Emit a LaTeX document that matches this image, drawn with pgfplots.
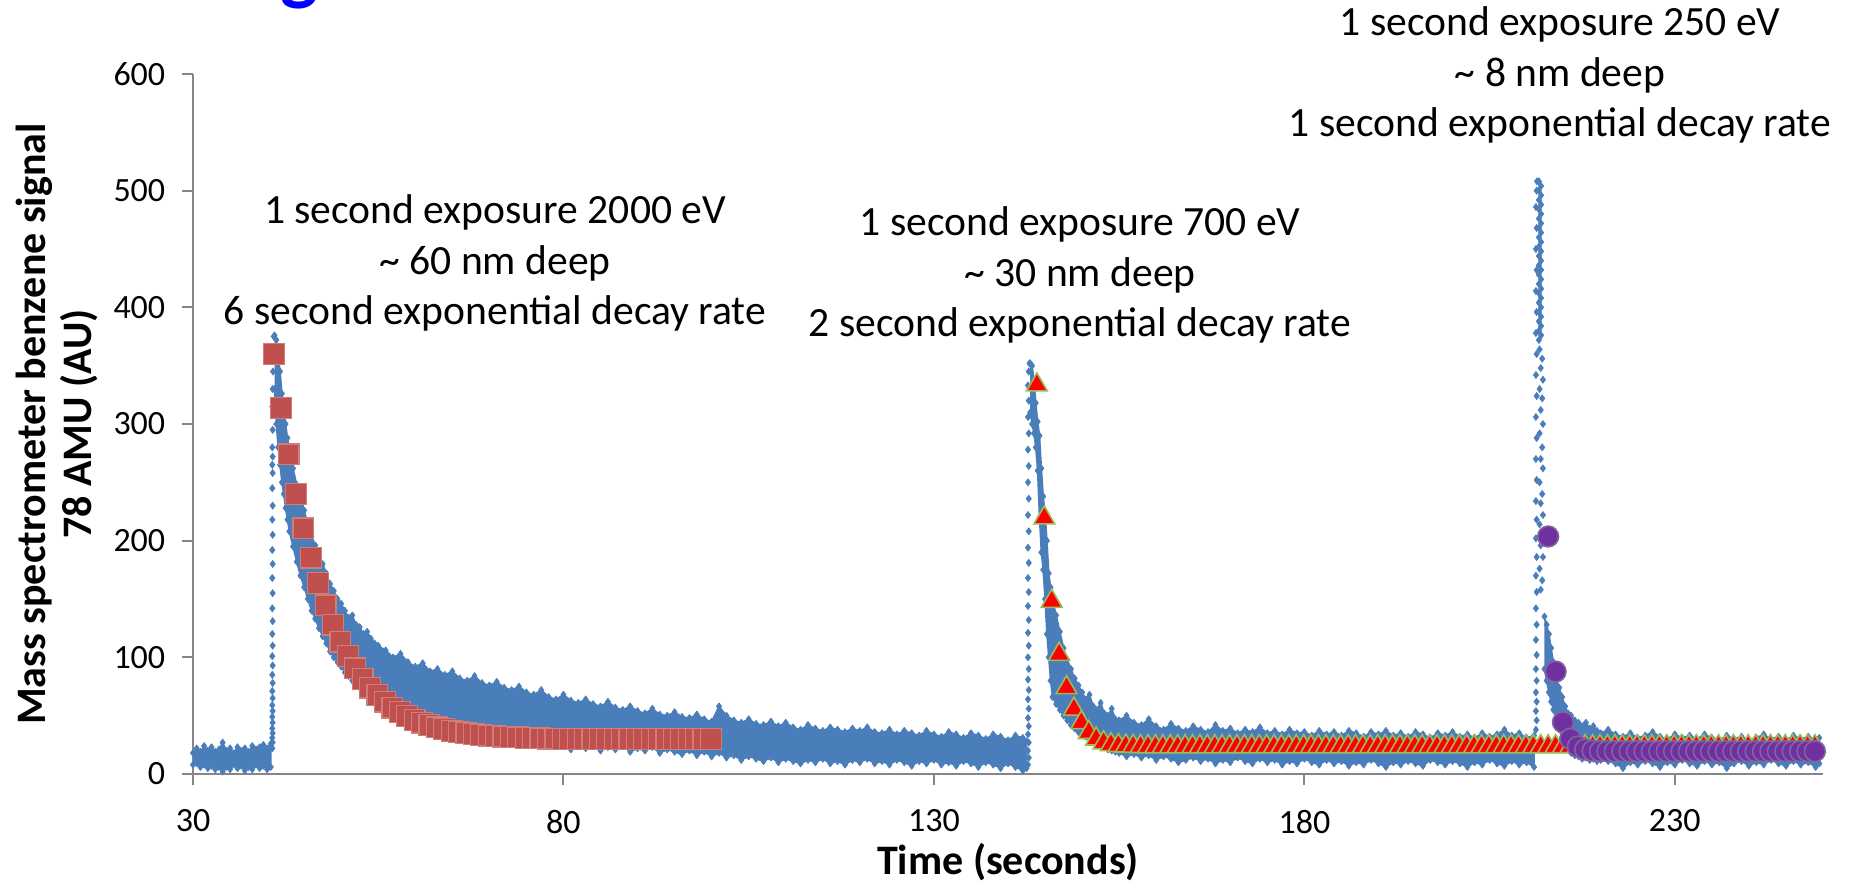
\documentclass[border=0pt]{standalone}
\usepackage{fontspec}
\setmainfont{Carlito}
\usepackage{pgfplots}
\pgfplotsset{compat=1.18}
\usepackage{pgfplotstable}
\definecolor{sblue}{HTML}{4A7EBB}
\definecolor{sred}{HTML}{C0504D}
\definecolor{tgreen}{HTML}{9BBB59}
\definecolor{cpurple}{HTML}{7030A0}
\definecolor{cpurpleb}{HTML}{8064A2}
\definecolor{axgray}{HTML}{868686}
\newcommand{\tickfont}{\fontsize{8.5}{10}\selectfont}
\newcommand{\annfont}{\fontsize{10.4}{12.6}\selectfont}
\newcommand{\labfont}{\fontsize{10.5}{11.5}\selectfont\bfseries}

% ---- blue signal: noisy band, section 1 (baseline before first exposure)
\pgfplotstableread{
x y
30.0 18
30.5 22
31.0 19
31.5 24
32.0 20
32.5 23
33.0 19
33.5 21
34.0 27
34.5 20
35.0 22
35.5 18
36.0 23
36.5 20
37.0 22
37.5 19
38.0 24
38.5 21
39.0 23
39.5 25
40.0 22
40.5 26
40.5 6
40.0 4
39.5 7
39.0 5
38.5 8
38.0 4
37.5 6
37.0 3
36.5 7
36.0 5
35.5 8
35.0 4
34.5 6
34.0 2
33.5 6
33.0 4
32.5 7
32.0 5
31.5 8
31.0 6
30.5 9
30.0 8
}\bandA

% ---- blue signal, section 2 (decay after 2000 eV exposure)
\pgfplotstableread{
x y
41.0 376
41.25 372
41.5 360
41.75 345
42.0 326
42.25 312
42.5 300
42.75 288
43.0 278
43.5 262
44.0 248
44.5 238
45.0 226
45.5 214
46.0 204
46.5 196
47.0 186
47.5 180
48.0 172
48.5 163
49.0 157
49.5 150
50.0 146
50.5 140
51.0 134
51.5 136
52.0 128
52.5 126
53.0 120
53.5 122
54.0 116
54.5 112
55.0 110
56.0 106
57.0 100
58.0 103
59.0 96
60.0 92
61.0 95
62.0 88
63.0 90
64.0 85
65.0 88
66.0 82
67.0 80
68.0 84
69.0 78
70.0 76
71.0 79
72.0 74
73.0 72
74.0 75
75.0 70
76.0 68
77.0 72
78.0 66
79.0 64
80.0 68
81.0 63
82.0 61
83.0 64
84.0 60
85.0 58
86.0 62
87.0 57
88.0 55
89.0 58
90.0 54
91.0 52
92.0 56
93.0 51
94.0 50
95.0 53
96.0 49
97.0 48
98.0 51
99.0 47
100.0 45
101.0 58
102.0 50
103.0 46
104.0 44
105.0 47
106.0 43
107.0 42
108.0 45
109.0 41
110.0 44
111.0 40
112.0 38
113.0 42
114.0 39
115.0 37
116.0 40
117.0 38
118.0 36
119.0 39
120.0 37
121.0 40
122.0 36
123.0 35
124.0 38
125.0 34
126.0 37
127.0 35
128.0 33
129.0 37
130.0 34
131.0 32
132.0 36
133.0 34
134.0 31
135.0 35
136.0 33
137.0 30
138.0 34
139.0 32
140.0 29
141.0 33
142.0 31
142.5 28
142.5 5
142.0 3
141.0 6
140.0 9
139.0 5
138.0 8
137.0 10
136.0 6
135.0 9
134.0 11
133.0 7
132.0 10
131.0 8
130.0 12
129.0 9
128.0 11
127.0 7
126.0 10
125.0 12
124.0 8
123.0 11
122.0 9
121.0 13
120.0 10
119.0 12
118.0 8
117.0 11
116.0 9
115.0 13
114.0 10
113.0 12
112.0 9
111.0 11
110.0 13
109.0 10
108.0 14
107.0 11
106.0 13
105.0 15
104.0 12
103.0 16
102.0 14
101.0 18
100.0 15
99.0 19
98.0 16
97.0 20
96.0 17
95.0 19
94.0 21
93.0 18
92.0 23
91.0 20
90.0 22
89.0 19
88.0 24
87.0 21
86.0 23
85.0 20
84.0 24
83.0 22
82.0 25
81.0 21
80.0 27
79.0 25
78.0 28
77.0 27
76.0 30
75.0 28
74.0 31
73.0 30
72.0 33
71.0 31
70.0 34
69.0 37
68.0 36
67.0 39
66.0 40
65.0 43
64.0 42
63.0 45
62.0 46
61.0 50
60.0 49
59.0 53
58.0 54
57.0 59
56.0 58
55.0 62
54.5 64
54.0 67
53.5 69
53.0 72
52.5 74
52.0 77
51.5 80
51.0 84
50.5 87
50.0 92
49.5 96
49.0 100
48.5 105
48.0 112
47.5 118
47.0 125
46.5 133
46.0 140
45.5 150
45.0 160
44.5 170
44.0 182
43.5 195
43.0 208
42.75 218
42.5 228
42.25 240
42.0 250
41.75 265
41.5 280
41.25 300
41.0 330
}\bandB

% ---- blue signal, section 3 (decay after 700 eV exposure)
\pgfplotstableread{
x y
143.0 352
143.25 350
143.5 338
143.75 318
144.0 302
144.25 290
144.5 262
144.75 238
145.0 224
145.25 200
145.5 172
145.75 160
146.0 150
146.5 136
147.0 122
147.5 108
148.0 98
148.5 90
149.0 82
149.5 76
150.0 70
150.5 64
151.0 68
151.5 58
152.0 55
152.5 61
153.0 52
153.5 50
154.0 56
154.5 47
155.0 46
156.0 50
157.0 44
158.0 42
159.0 47
160.0 41
161.0 38
162.0 43
163.0 39
164.0 37
165.0 41
166.0 38
167.0 36
168.0 42
169.0 37
170.0 39
171.0 35
172.0 38
173.0 36
174.0 40
175.0 35
176.0 37
177.0 34
178.0 38
179.0 35
180.0 36
181.0 33
182.0 37
183.0 34
184.0 36
185.0 33
186.0 37
187.0 35
188.0 32
189.0 36
190.0 34
191.0 37
192.0 33
193.0 35
194.0 32
195.0 36
196.0 34
197.0 31
198.0 35
199.0 33
200.0 36
201.0 32
202.0 34
203.0 31
204.0 35
205.0 32
206.0 34
207.0 38
208.0 33
209.0 35
210.0 31
211.0 33
211.0 6
210.0 10
209.0 8
208.0 11
207.0 7
206.0 9
205.0 12
204.0 8
203.0 10
202.0 6
201.0 9
200.0 11
199.0 8
198.0 10
197.0 12
196.0 7
195.0 9
194.0 11
193.0 8
192.0 10
191.0 6
190.0 9
189.0 12
188.0 8
187.0 10
186.0 7
185.0 11
184.0 9
183.0 12
182.0 8
181.0 10
180.0 13
179.0 9
178.0 11
177.0 8
176.0 12
175.0 10
174.0 13
173.0 9
172.0 11
171.0 14
170.0 10
169.0 12
168.0 9
167.0 13
166.0 11
165.0 14
164.0 12
163.0 10
162.0 13
161.0 15
160.0 12
159.0 16
158.0 14
157.0 17
156.0 15
155.0 18
154.5 19
154.0 20
153.5 21
153.0 23
152.5 24
152.0 26
151.5 28
151.0 30
150.5 32
150.0 34
149.5 36
149.0 39
148.5 42
148.0 46
147.5 50
147.0 55
146.5 60
146.0 66
145.75 80
145.5 100
145.25 120
145.0 150
144.75 175
144.5 190
144.25 220
144.0 260
143.75 280
143.5 292
143.25 300
143.0 310
}\bandC

% ---- blue signal, section 4 (decay after 250 eV exposure)
\pgfplotstableread{
x y
212.4 135
212.7 128
213.0 120
213.3 108
213.6 96
214.0 82
214.4 74
214.8 66
215.2 58
215.6 52
216.0 50
216.5 46
217.0 44
217.5 41
218.0 44
218.5 39
219.0 41
219.5 37
220.0 35
221.0 38
222.0 34
223.0 32
224.0 35
225.0 31
226.0 33
227.0 36
228.0 32
229.0 30
230.0 34
231.0 31
232.0 33
233.0 30
234.0 34
235.0 31
236.0 29
237.0 33
238.0 30
239.0 32
240.0 29
241.0 31
242.0 34
243.0 30
244.0 32
245.0 29
246.0 33
247.0 30
248.0 32
249.0 29
249.5 31
249.5 9
249.0 6
248.0 10
247.0 8
246.0 11
245.0 7
244.0 9
243.0 12
242.0 8
241.0 10
240.0 7
239.0 11
238.0 9
237.0 5
236.0 10
235.0 8
234.0 11
233.0 7
232.0 9
231.0 12
230.0 8
229.0 10
228.0 6
227.0 9
226.0 11
225.0 8
224.0 10
223.0 5
222.0 9
221.0 11
220.0 12
219.5 11
219.0 13
218.5 12
218.0 14
217.5 13
217.0 15
216.5 16
216.0 18
215.6 22
215.2 26
214.8 32
214.4 38
214.0 46
213.6 55
213.3 62
213.0 70
212.7 80
212.4 90
}\bandD

% ---- blue signal: isolated points on the rising edges and peak tops
\pgfplotstableread{
x y
40.70 22
40.75 27
40.70 31
40.75 35
40.70 39
40.75 44
40.70 49
40.75 54
40.70 59
40.75 65
40.70 71
40.75 78
40.70 85
40.75 93
40.70 101
40.75 110
40.70 120
40.75 131
40.70 142
40.75 155
40.70 168
40.75 180
40.70 192
40.75 205
40.70 218
40.75 230
40.70 245
40.75 258
40.70 265
40.75 272
40.70 280
40.75 295
40.70 315
40.75 330
40.80 345
40.85 360
40.90 375
142.70 8
142.80 14
142.70 20
142.80 27
142.70 34
142.80 41
142.70 48
142.80 56
142.70 64
142.80 72
142.70 81
142.80 90
142.70 100
142.80 110
142.70 121
142.80 132
142.70 144
142.80 156
142.70 168
142.80 181
142.70 194
142.80 208
142.70 222
142.80 236
142.70 250
142.80 264
142.70 278
142.80 292
142.70 306
142.80 320
142.70 333
142.80 345
142.90 352
211.25 38
211.35 46
211.25 54
211.35 62
211.25 70
211.35 80
211.25 90
211.35 102
211.25 115
211.35 128
211.25 142
211.35 156
211.25 170
211.35 186
211.25 202
211.35 218
211.25 234
211.35 252
211.25 270
211.35 288
211.25 306
211.35 324
211.25 342
211.35 360
211.25 378
211.35 396
211.25 414
211.35 432
211.25 450
211.35 468
211.25 486
211.35 500
211.40 508
211.65 372
211.65 380
211.65 388
211.65 396
211.65 404
211.65 412
211.65 420
211.65 428
211.65 436
211.65 444
211.65 452
211.65 460
211.65 468
211.65 476
211.65 484
211.65 492
211.65 500
211.65 508
211.95 376
211.95 384
211.95 392
211.95 400
211.95 408
211.95 416
211.95 424
211.95 432
211.95 440
211.95 448
211.95 456
211.95 464
211.95 472
211.95 480
211.95 488
211.95 496
211.95 504
211.75 364
212.10 356
211.90 348
212.20 338
211.75 330
212.10 322
211.90 312
212.20 300
211.75 292
212.10 280
211.90 270
212.20 262
211.75 250
212.10 240
211.90 232
212.20 222
211.75 214
212.10 205
211.90 196
212.20 186
211.75 176
212.10 166
211.90 158
}\bluepts

% ---- fit, 2000 eV (6 s exponential decay)
\pgfplotstableread{
x y
40.9 360
41.9 313.5
42.9 274
43.9 240
44.9 210.5
45.9 185.5
46.9 163.5
47.9 144.5
48.9 128
49.9 113.5
50.9 101
51.9 90.5
52.9 81.5
53.9 74
54.9 67.5
55.9 62
56.9 57
57.9 53
58.9 49.5
59.9 46.5
60.9 44
61.9 42
62.9 40
63.9 38.5
64.9 37
65.9 36
66.9 35
67.9 34.2
68.9 33.5
69.9 32.9
70.9 32.4
71.9 32
72.9 31.6
73.9 31.3
74.9 31
75.9 30.8
76.9 30.6
77.9 30.4
78.9 30.3
79.9 30.2
80.9 30.1
81.9 30
82.9 30
83.9 30
84.9 30
85.9 30
86.9 30
87.9 30
88.9 30
89.9 30
90.9 30
91.9 30
92.9 30
93.9 30
94.9 30
95.9 30
96.9 30
97.9 30
98.9 30
99.9 30
}\fitA

% ---- fit, 700 eV (2 s exponential decay)
\pgfplotstableread{
x y
143.9 333.5
144.9 219.5
145.9 148
146.9 102.6
147.9 74
148.9 55.6
149.9 44
150.9 35.6
151.9 30
152.9 26.8
153.9 25.2
154.9 24.4
155.9 24
156.9 23.8
157.9 23.6
158.9 23.5
159.9 23.5
160.9 23.5
161.9 23.5
162.9 23.5
163.9 23.5
164.9 23.5
165.9 23.5
166.9 23.5
167.9 23.5
168.9 23.5
169.9 23.5
170.9 23.5
171.9 23.5
172.9 23.5
173.9 23.5
174.9 23.5
175.9 23.5
176.9 23.5
177.9 23.5
178.9 23.5
179.9 23.5
180.9 23.5
181.9 23.5
182.9 23.5
183.9 23.5
184.9 23.5
185.9 23.5
186.9 23.5
187.9 23.5
188.9 23.5
189.9 23.5
190.9 23.5
191.9 23.5
192.9 23.5
193.9 23.5
194.9 23.5
195.9 23.5
196.9 23.5
197.9 23.5
198.9 23.5
199.9 23.5
200.9 23.5
201.9 23.5
202.9 23.5
203.9 23.5
204.9 23.5
205.9 23.5
206.9 23.5
207.9 23.5
208.9 23.5
209.9 23.5
210.9 23.5
211.9 23.5
212.9 23.5
213.9 23.5
214.9 23.5
215.9 23.5
216.9 23.5
217.9 23.5
218.9 23.5
219.9 23.5
220.9 23.5
221.9 23.5
222.9 23.5
223.9 23.5
224.9 23.5
225.9 23.5
226.9 23.5
227.9 23.5
228.9 23.5
229.9 23.5
230.9 23.5
231.9 23.5
232.9 23.5
233.9 23.5
234.9 23.5
235.9 23.5
236.9 23.5
237.9 23.5
238.9 23.5
239.9 23.5
240.9 23.5
241.9 23.5
242.9 23.5
243.9 23.5
244.9 23.5
245.9 23.5
246.9 23.5
247.9 23.5
248.9 23.5
}\fitB

% ---- fit, 250 eV (1 s exponential decay)
\pgfplotstableread{
x y
212.9 203.6
213.9 87.8
214.9 44.4
215.9 30.2
216.9 23.5
217.9 21
218.9 20
219.9 19.6
220.9 19.5
221.9 19.5
222.9 19.5
223.9 19.5
224.9 19.5
225.9 19.5
226.9 19.5
227.9 19.5
228.9 19.5
229.9 19.5
230.9 19.5
231.9 19.5
232.9 19.5
233.9 19.5
234.9 19.5
235.9 19.5
236.9 19.5
237.9 19.5
238.9 19.5
239.9 19.5
240.9 19.5
241.9 19.5
242.9 19.5
243.9 19.5
244.9 19.5
245.9 19.5
246.9 19.5
247.9 19.5
248.9 19.5
}\fitC

\begin{document}
\begin{tikzpicture}
\path[use as bounding box] (0,0) rectangle (465pt,220pt);
\begin{scope}
\clip (0,0) rectangle (465pt,220pt);
\node[text=blue, font=\fontsize{20}{24}\selectfont\bfseries, anchor=base, inner sep=0pt] at (74.75pt,221pt) {g};
\end{scope}
\begin{axis}[
  at={(48.25pt,26.5pt)}, anchor=south west,
  scale only axis, width=407.5pt, height=175pt,
  xmin=30, xmax=250, ymin=0, ymax=600,
  axis lines=left,
  axis line style={draw=axgray, line width=0.55pt, -},
  xtick={30,80,130,180,230},
  ytick={0,100,200,300,400,500,600},
  tick align=outside,
  major tick length=2.75pt,
  tick style={draw=axgray, line width=0.5pt},
  /pgf/number format/assume math mode=true,
  xticklabel style={font=\tickfont, inner sep=0pt, yshift=-6pt},
  yticklabel style={font=\tickfont, inner sep=0pt, xshift=-4pt},
  xlabel={Time (seconds)},
  ylabel={Mass spectrometer benzene signal\\78 AMU (AU)},
  every axis x label/.style={at={(axis description cs:0.5,-0.1257)}, anchor=center, font=\labfont},
  every axis y label/.style={at={(axis description cs:-0.0834,0.5)}, anchor=center, rotate=90, align=center, font=\labfont},
  band/.style={fill=sblue, draw=sblue, line width=0.4pt, line join=round,
    mark=diamond*, mark size=0.85pt, mark options={fill=sblue, draw=sblue, line width=0.2pt}},
]
\addplot[band] table {\bandA};
\addplot[band] table {\bandB};
\addplot[band] table {\bandC};
\addplot[band] table {\bandD};
\addplot[only marks, mark=diamond*, mark size=0.85pt, mark options={fill=sblue, draw=sblue, line width=0.2pt}] table {\bluepts};
\addplot[only marks, mark=square*, mark size=2.6pt, mark options={fill=sred, draw=sred!75!white, line width=0.3pt}] table {\fitA};
\addplot[only marks, mark=triangle*, mark size=3.0pt, mark options={fill=red, draw=tgreen, line width=0.4pt}] table {\fitB};
\addplot[only marks, mark=*, mark size=2.6pt, mark options={fill=cpurple, draw=cpurpleb, line width=0.4pt}] table {\fitC};
\end{axis}
\node[align=center, font=\annfont, inner sep=0pt] at (123.75pt,154.25pt) {1 second exposure 2000 eV\\\textasciitilde{} 60 nm deep\\6 second exponential decay rate};
\node[align=center, font=\annfont, inner sep=0pt] at (270pt,151.25pt) {1 second exposure 700 eV\\\textasciitilde{} 30 nm deep\\2 second exponential decay rate};
\node[align=center, font=\annfont, inner sep=0pt] at (390pt,201.25pt) {1 second exposure 250 eV\\\textasciitilde{} 8 nm deep\\1 second exponential decay rate};
\end{tikzpicture}
\end{document}
